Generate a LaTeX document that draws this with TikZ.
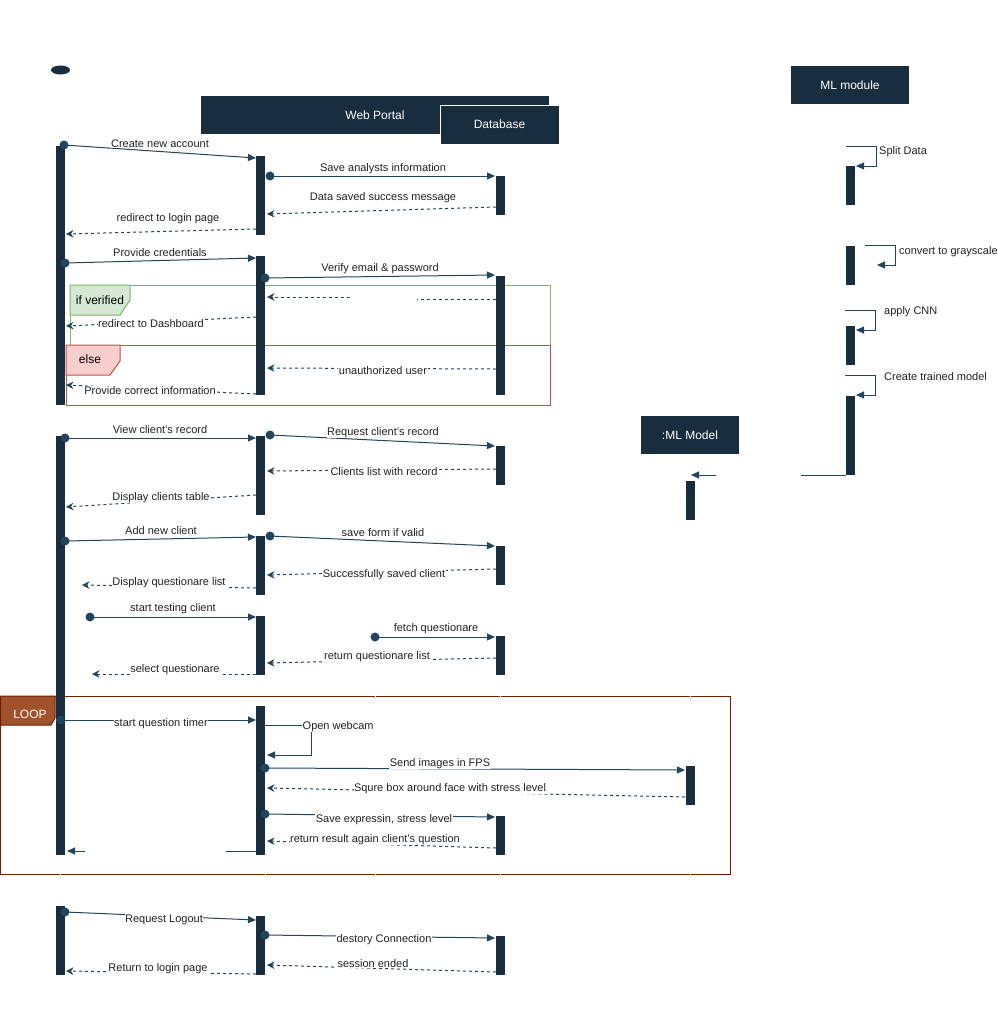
\documentclass[tikz,border=0pt]{standalone}
\usepackage{fontspec}
\setmainfont{Liberation Sans}
\usetikzlibrary{arrows.meta,shapes.geometric}
\definecolor{navy}{HTML}{182E3E}
\definecolor{ln}{HTML}{23445D}
\definecolor{gfill}{HTML}{D5E8D4}
\definecolor{gline}{HTML}{82B366}
\definecolor{rfill}{HTML}{F8CECC}
\definecolor{rline}{HTML}{B85450}
\definecolor{lfill}{HTML}{A0522D}
\definecolor{lline}{HTML}{6D1F00}
\definecolor{txt}{HTML}{222222}
\tikzset{
  barst/.style={fill=navy, draw=none, minimum width=9pt, inner sep=0pt, anchor=north, rectangle},
  head/.style={fill=navy, draw=none, text=white, font=\fontsize{12}{14}\selectfont, inner sep=0pt, rectangle},
  sline/.style={draw=ln, line width=1pt, -{Triangle[length=8pt,width=7pt]}},
  dline/.style={draw=ln, line width=1pt, dash pattern=on 3pt off 3pt, -{Stealth[length=7.5pt,width=7.5pt,inset=2.5pt]}},
  lbl/.style={fill=white, inner sep=0.5pt, yshift=-1.5pt, font=\fontsize{11}{13}\selectfont, text=txt},
  sidelbl/.style={inner sep=0pt, anchor=west, yshift=-1.5pt, font=\fontsize{11}{13}\selectfont, text=txt},
  tabtxt/.style={inner sep=0pt, yshift=-0.5pt, font=\fontsize{12}{14}\selectfont},
}
\newcommand{\actbar}[4]{\node[barst, minimum height={(#4-#3)*1pt}] (#1) at (#2,#3) {};}
\newcommand{\smsg}[5]{%
  \coordinate (#1a) at (#2); \coordinate (#1b) at (#3);
  \draw[sline] (#1a) -- (#1b);
  \node[lbl] (#1l) at (#4) {#5};
  \fill[ln] (#1a) circle[radius=4.5pt];}
\newcommand{\rmsg}[5]{%
  \coordinate (#1a) at (#2); \coordinate (#1b) at (#3);
  \draw[dline] (#1a) -- (#1b);
  \node[lbl] (#1l) at (#4) {#5};}
\begin{document}
\begin{tikzpicture}[x=1pt,y=-1pt]
\useasboundingbox[fill=white] (0,0) rectangle (998,1026);

% start ellipse
\node[fill=navy, ellipse, minimum width=19pt, minimum height=9pt, inner sep=0pt] (start) at (60.5,70) {};

% heads
\node[head, minimum width=348pt, minimum height=38pt] (web) at (375,115) {Web Portal};
\node[head, draw=white, line width=1pt, minimum width=119pt, minimum height=39pt] (db) at (499.5,124.5) {Database};
\node[head, minimum width=118pt, minimum height=38pt] (mlmod) at (850,85) {ML module};
\node[head, minimum width=98pt, minimum height=38pt] (mlm) at (690,435) {:ML Model};

% alt frames
\draw[gline, line width=1pt] (70,285) rectangle (550,345);
\draw[gline, fill=gfill, line width=1pt] (70,285) -- (130,285) -- (130,300) -- (120,315) -- (70,315) -- cycle;
\node[tabtxt] (iftab) at (100,300) {if verified};
\draw[rline, line width=1pt] (66,345) rectangle (550,405);
\draw[rline, fill=rfill, line width=1pt] (66,345) -- (120,345) -- (120,361) -- (110,375) -- (66,375) -- cycle;
\node[tabtxt] (elsetab) at (90,359) {else};

% loop frame
\draw[lline, line width=1pt] (0.5,696) rectangle (730,874);
\draw[lline, fill=lfill, line width=1pt] (0.5,696) -- (55,696) -- (55,718) -- (51,725) -- (0.5,725) -- cycle;
\node[tabtxt, text=white] (looptab) at (30,714) {LOOP};
\foreach \gx in {60,265,375,500,690} {\draw[white, line width=1pt] (\gx,872.5) -- (\gx,875.5);}
\foreach \gx in {375,500,690} {\draw[white, line width=1pt] (\gx,694.5) -- (\gx,697.5);}

% activation bars
\actbar{a1}{60.5}{146}{405}
\actbar{a2}{60.5}{436}{855}
\actbar{a3}{60.5}{906}{975}
\actbar{w1}{260.5}{156}{235}
\actbar{w2}{260.5}{256}{395}
\actbar{w3}{260.5}{436}{515}
\actbar{w4}{260.5}{536}{595}
\actbar{w5}{260.5}{616}{675}
\actbar{w6}{260.5}{706}{855}
\actbar{w7}{260.5}{916}{975}
\actbar{d1}{500.5}{176}{215}
\actbar{d2}{500.5}{276}{395}
\actbar{d3}{500.5}{446}{485}
\actbar{d4}{500.5}{546}{585}
\actbar{d5}{500.5}{636}{675}
\actbar{d6}{500.5}{816}{855}
\actbar{d7}{500.5}{936}{975}
\actbar{m1}{850.5}{166}{205}
\actbar{m2}{850.5}{246}{285}
\actbar{m3}{850.5}{326}{365}
\actbar{m4}{850.5}{396}{475}
\actbar{k1}{690.5}{481}{520}
\actbar{k2}{690.5}{766}{805}

% messages: account creation
\smsg{c1}{64,145}{256,158}{160,142}{Create new account}
\smsg{c2}{270,176}{495,176}{383,167}{Save analysts information}
\rmsg{c3}{496,207}{267,214}{383,196}{Data saved success message}
\rmsg{c4}{256,229}{66,234}{168,217}{redirect to login page}

% login
\smsg{l1}{65,263}{256,258}{160,251}{Provide credentials}
\smsg{l2}{265,278}{495,275}{380,267}{Verify email \& password}
\coordinate (l3a) at (496,299); \coordinate (l3b) at (267,297);
\draw[dline] (l3a) -- (417,299) (350,297) -- (l3b);
\rmsg{l4}{256,317}{66,326}{151,322}{redirect to Dashboard}
\rmsg{l5}{496,369}{267,368}{383,369}{unauthorized user}
\rmsg{l6}{256,394}{66,385}{150,389}{Provide correct information}

% clients
\smsg{v1}{65,438}{256,438}{160,428}{View client's record}
\smsg{v2}{270,435}{495,446}{383,431}{Request client's record}
\rmsg{v3}{496,469}{267,471}{384,470}{Clients list with record}
\rmsg{v4}{256,495}{66,507}{161,496}{Display clients table}
\smsg{n1}{65,541}{256,537}{161,529}{Add new client}
\smsg{n2}{270,536}{495,546}{383,531}{save form if valid}
\rmsg{n3}{496,569}{267,575}{384,573}{Successfully saved client}
\rmsg{n4}{256,588}{82,585}{169,581}{Display questionare list}
\smsg{t1}{90,617}{256,617}{173,607}{start testing client}
\smsg{t2}{375,637}{495,637}{436,627}{fetch questionare}
\rmsg{t3}{496,658}{267,663}{377,655}{return questionare list}
\rmsg{t4}{256,674}{92,674}{175,668}{select questionare}

% loop
\smsg{q1}{60.5,720}{256,720}{161,722}{start question timer}
\coordinate (owa) at (265,725); \coordinate (owb) at (267,755);
\draw[sline] (owa) -| (311,755) -- (owb);
\node[lbl, anchor=west] (owl) at (302,725) {Open webcam};
\smsg{q2}{265,768}{685,770}{440,762}{Send images in FPS}
\rmsg{q3}{685,797}{267,788}{450,787}{Squre box around face with stress level}
\smsg{q4}{265,814}{495,817}{384,818}{Save expressin, stress level}
\rmsg{q5}{496,848}{267,841}{375,838}{return result again client's question}
\coordinate (q6a) at (256,851); \coordinate (q6b) at (67,851);
\draw[sline] (q6a) -- (226,851) (85,851) -- (q6b);

% logout
\smsg{o1}{65,912}{256,920}{164,918}{Request Logout}
\smsg{o2}{265,935}{495,938}{384,938}{destory Connection}
\rmsg{o3}{496,972}{267,965}{373,962}{session ended}
\rmsg{o4}{256,974}{66,971}{158,967}{Return to login page}

% ML module self messages
\coordinate (s1a) at (846,146); \coordinate (s1b) at (856,166);
\draw[sline] (s1a) -| (876,166) -- (s1b);
\node[sidelbl] (s1l) at (879,150) {Split Data};
\coordinate (s2a) at (865,245); \coordinate (s2b) at (877,265);
\draw[sline] (s2a) -| (895,265) -- (s2b);
\node[sidelbl] (s2l) at (899,250) {convert to grayscale};
\coordinate (s3a) at (845,310); \coordinate (s3b) at (856,330);
\draw[sline] (s3a) -| (875,330) -- (s3b);
\node[sidelbl] (s3l) at (884,310) {apply CNN};
\coordinate (s4a) at (845,375); \coordinate (s4b) at (856,395);
\draw[sline] (s4a) -| (875,395) -- (s4b);
\node[sidelbl] (s4l) at (884,375) {Create trained model};
\coordinate (s5a) at (846,475); \coordinate (s5b) at (691,475);
\draw[sline] (s5a) -- (801,475) (716,475) -- (s5b);
\end{tikzpicture}
\end{document}
